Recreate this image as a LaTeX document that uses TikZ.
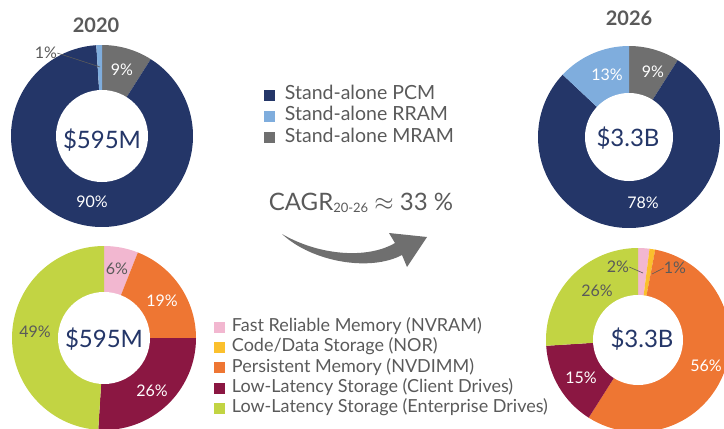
\documentclass[tikz,border=0pt]{standalone}
\usepackage{fontspec}
\setmainfont{Lato}
\usetikzlibrary{calc,positioning}
\definecolor{pcm}{HTML}{243668}
\definecolor{rram}{HTML}{7FADDD}
\definecolor{mram}{HTML}{6F6F6F}
\definecolor{nvram}{HTML}{F2B7D0}
\definecolor{nor}{HTML}{FBC02D}
\definecolor{nvdimm}{HTML}{EE7633}
\definecolor{client}{HTML}{8B1742}
\definecolor{enterprise}{HTML}{C2D443}
\definecolor{txtgrey}{HTML}{5A5A5A}
\tikzset{
    pct/.style={
    font=\fontsize{16}{18}\selectfont,text=white,inner sep=0pt
    },
    dpct/.style={
    pct,text=txtgrey
    },
    total/.style={
    font=\fontsize{24}{27}\selectfont,text=pcm,inner sep=0pt
    },
    year/.style={
    font=\bfseries\fontsize{20}{22}\selectfont,text=txtgrey,inner sep=0pt
    },
    key/.style={
    rectangle,minimum size=11pt,inner sep=0pt
    },
    legtext/.style={
    font=\fontsize{18}{20}\selectfont,text=txtgrey,inner sep=0pt,text height=12pt,text depth=3.5pt
    },
    techtext/.style={
    legtext,font=\fontsize{19.5}{21}\selectfont
    },
    leader/.style={
    draw=txtgrey,line width=0.6pt
    },
}
% centre, outer radius, inner radius, list of from/to/colour
\newcommand{\donut}[4]{%
  \foreach \sa/\sb/\scol in {#4}
    \fill[\scol] (#1) -- ++(\sa:#2) arc[start angle=\sa, end angle=\sb, radius=#2] -- cycle;
  \fill[white] (#1) circle (#3);
}

\begin{document}
\begin{tikzpicture}[x=1pt,y=-1pt]
   \useasboundingbox (0,0) rectangle (724,429);
   \clip (0,0) rectangle (724,429);

   \coordinate (tl) at (102,136);
   \coordinate (tr) at (629,137);
   \coordinate (bl) at (104,338);
   \coordinate (br) at (638,340);

   % rings
   \donut{tl}{91}{46}{-90/-57.6/mram, -57.6/266.4/pcm, 266.4/270/rram}
   \donut{tr}{91}{44}{-90/-57.6/mram, -57.6/223.2/pcm, 223.2/270/rram}
   \donut{bl}{92}{46}{-90/-68.4/nvram, -68.4/0/nvdimm, 0/93.6/client, 93.6/270/enterprise}
   \donut{br}{92}{45}{-90/-82.8/nvram, -82.8/-79.2/nor, -79.2/122.4/nvdimm, 122.4/176.4/client, 176.4/270/enterprise}

   \node[year] (y20) at (96,25) {2020};
   \node[year] (y26) at (629,18) {2026};

   % 2020 technologies
   \node[total] (tlsum) at (102,140) {\$595M};
   \node[pct] (tl9) at (122,70) {9\%};
   \node[pct] (tl90) at (92,202) {90\%};
   \node[dpct] (tl1) at (46,53) {1\%};
   \coordinate (tl1end) at (100,67);
   \draw[leader] (tl1.east) -- (tl1end);

   % 2026 technologies
   \node[total] (trsum) at (628,138) {\$3.3B};
   \node[pct] (tr13) at (607,75) {13\%};
   \node[pct] (tr9) at (653,72) {9\%};
   \node[pct] (tr78) at (643,203) {78\%};

   % 2020 applications
   \node[total] (blsum) at (104,339) {\$595M};
   \node[dpct] (bl6) at (117,269) {6\%};
   \node[pct] (bl19) at (162,301) {19\%};
   \node[dpct] (bl49) at (35,332) {49\%};
   \node[pct] (bl26) at (152,391) {26\%};

   % 2026 applications
   \node[total] (brsum) at (642,339) {\$3.3B};
   \node[dpct] (br2) at (618,267) {2\%};
   \node[dpct] (br1) at (675,268) {1\%};
   \coordinate (br2end) at (643,273);
   \coordinate (br1end) at (652,274);
   \draw[leader] (br2.east) -- (br2end);
   \draw[leader] (br1.west) -- (br1end);
   \node[dpct] (br26) at (597,291) {26\%};
   \node[pct] (br15) at (581,378) {15\%};
   \node[pct] (br56) at (706,366) {56\%};

   % legend, technologies
   \node[key,fill=pcm] (kpcm) at (269,95) {};
   \node[key,fill=rram,below=10pt of kpcm] (krram) {};
   \node[key,fill=mram,below=10pt of krram] (kmram) {};
   \node[techtext,right=10pt of kpcm] (tpcm) {Stand-alone PCM};
   \node[techtext,right=10pt of krram] (trram) {Stand-alone RRAM};
   \node[techtext,right=10pt of kmram] (tmram) {Stand-alone MRAM};

   % growth
   \node[font=\fontsize{24}{27}\selectfont,text=txtgrey,inner sep=0pt] (cagr) at (361,203)
     {CAGR\raisebox{-2pt}{\fontsize{13}{13}\selectfont 20-26} $\approx$ 33 \%};
   \fill[mram] (282,234) .. controls (320,256) and (368,259) .. (395,243)
     -- (389,233) -- (427,237) -- (407,267) -- (402,255)
     .. controls (370,272) and (312,262) .. cycle;

   % legend, applications
   \node[key,fill=nvram] (knvram) at (219,327) {};
   \node[key,fill=nor,below=9pt of knvram] (knor) {};
   \node[key,fill=nvdimm,below=9pt of knor] (knvdimm) {};
   \node[key,fill=client,below=9pt of knvdimm] (kclient) {};
   \node[key,fill=enterprise,below=9pt of kclient] (kent) {};
   \node[legtext,right=7pt of knvram] (tnvram) {Fast Reliable Memory (NVRAM)};
   \node[legtext,right=7pt of knor] (tnor) {Code/Data Storage (NOR)};
   \node[legtext,right=7pt of knvdimm] (tnvdimm) {Persistent Memory (NVDIMM)};
   \node[legtext,right=7pt of kclient] (tclient) {Low-Latency Storage (Client Drives)};
   \node[legtext,right=7pt of kent] (tent) {Low-Latency Storage (Enterprise Drives)};
\end{tikzpicture}
\end{document}
